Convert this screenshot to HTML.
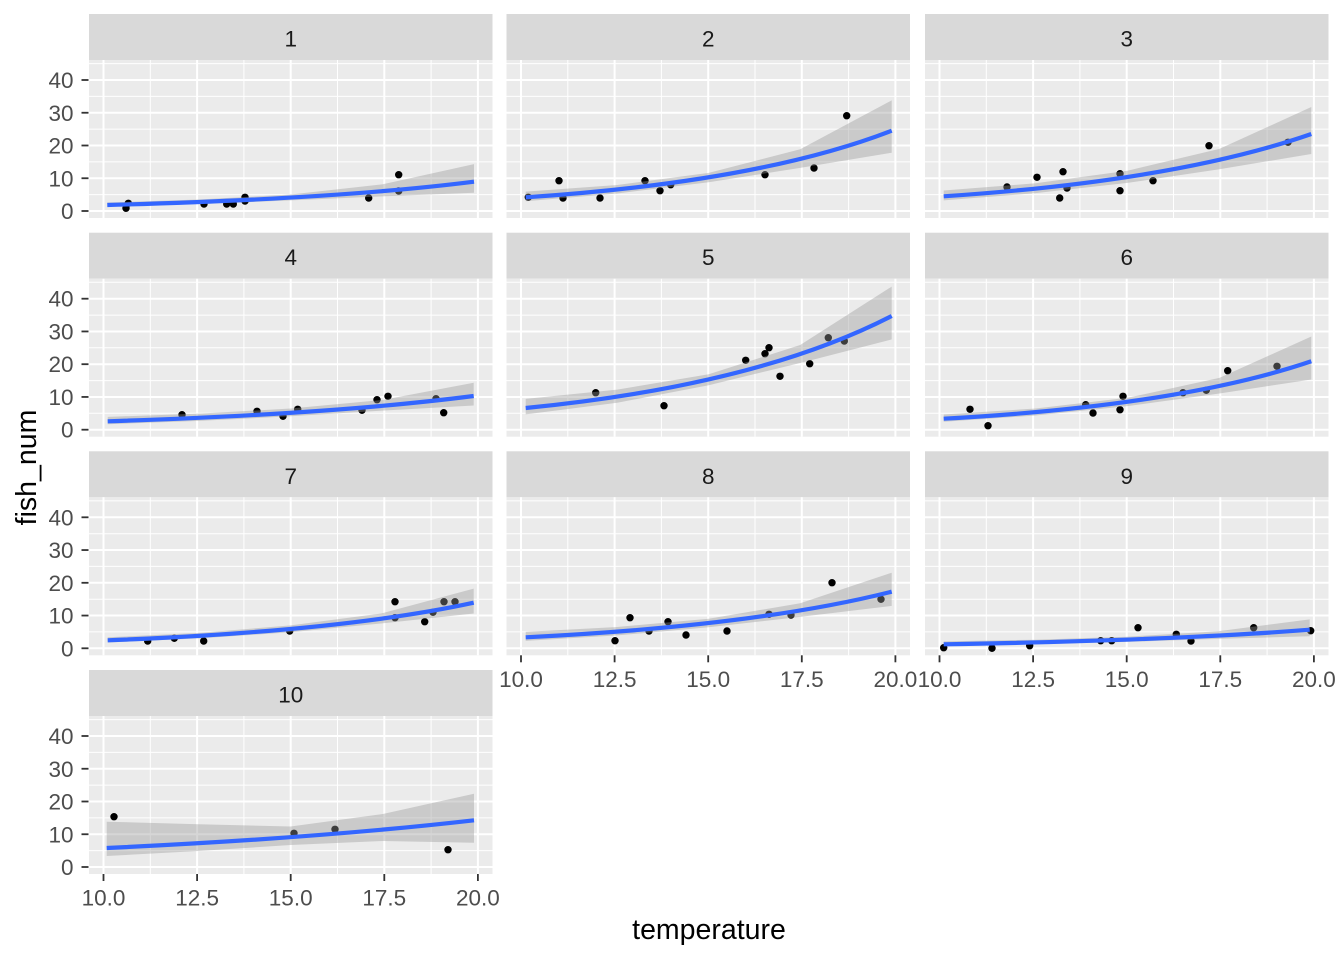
<!DOCTYPE html>
<html>
<head>
<meta charset="utf-8">
<style>
html,body{margin:0;padding:0;background:#fff;}
svg{display:block;}
text{font-family:"Liberation Sans",Arial,sans-serif;}
</style>
</head>
<body>
<svg width="1344" height="960" viewBox="0 0 1344 960" xmlns="http://www.w3.org/2000/svg">
<defs>
  <g id="bg">
    <rect x="0" y="0" width="403.5" height="158" fill="#EBEBEB"/>
    <g stroke="#FFFFFF" stroke-width="1">
      <line x1="61.3" y1="0" x2="61.3" y2="158"/>
      <line x1="154.9" y1="0" x2="154.9" y2="158"/>
      <line x1="248.5" y1="0" x2="248.5" y2="158"/>
      <line x1="342.1" y1="0" x2="342.1" y2="158"/>
      <line x1="0" y1="134.6" x2="403.5" y2="134.6"/>
      <line x1="0" y1="101.9" x2="403.5" y2="101.9"/>
      <line x1="0" y1="69.1" x2="403.5" y2="69.1"/>
      <line x1="0" y1="36.4" x2="403.5" y2="36.4"/>
      <line x1="0" y1="3.6" x2="403.5" y2="3.6"/>
    </g>
    <g stroke="#FFFFFF" stroke-width="2">
      <line x1="14.5" y1="0" x2="14.5" y2="158"/>
      <line x1="108.1" y1="0" x2="108.1" y2="158"/>
      <line x1="201.7" y1="0" x2="201.7" y2="158"/>
      <line x1="295.3" y1="0" x2="295.3" y2="158"/>
      <line x1="388.9" y1="0" x2="388.9" y2="158"/>
      <line x1="0" y1="151" x2="403.5" y2="151"/>
      <line x1="0" y1="118.25" x2="403.5" y2="118.25"/>
      <line x1="0" y1="85.5" x2="403.5" y2="85.5"/>
      <line x1="0" y1="52.75" x2="403.5" y2="52.75"/>
      <line x1="0" y1="20" x2="403.5" y2="20"/>
    </g>
  </g>
  <g id="ytick">
    <g stroke="#333333" stroke-width="1.8">
      <line x1="81.5" y1="151" x2="88.5" y2="151"/>
      <line x1="81.5" y1="118.25" x2="88.5" y2="118.25"/>
      <line x1="81.5" y1="85.5" x2="88.5" y2="85.5"/>
      <line x1="81.5" y1="52.75" x2="88.5" y2="52.75"/>
      <line x1="81.5" y1="20" x2="88.5" y2="20"/>
    </g>
    <g fill="#4D4D4D" font-size="22.5" text-anchor="end">
      <text x="73.5" y="159">0</text>
      <text x="73.5" y="126.25">10</text>
      <text x="73.5" y="93.5">20</text>
      <text x="73.5" y="60.75">30</text>
      <text x="73.5" y="28">40</text>
    </g>
  </g>
  <g id="xtick">
    <g stroke="#333333" stroke-width="1.8">
      <line x1="14.5" y1="158" x2="14.5" y2="165"/>
      <line x1="108.1" y1="158" x2="108.1" y2="165"/>
      <line x1="201.7" y1="158" x2="201.7" y2="165"/>
      <line x1="295.3" y1="158" x2="295.3" y2="165"/>
      <line x1="388.9" y1="158" x2="388.9" y2="165"/>
    </g>
    <g fill="#4D4D4D" font-size="22.5" text-anchor="middle">
      <text x="14.5" y="189.5">10.0</text>
      <text x="108.1" y="189.5">12.5</text>
      <text x="201.7" y="189.5">15.0</text>
      <text x="295.3" y="189.5">17.5</text>
      <text x="388.9" y="189.5">20.0</text>
    </g>
  </g>
</defs>

<!-- strips -->
<g fill="#D9D9D9">
  <rect x="89" y="14" width="403.5" height="46"/>
  <rect x="506.5" y="14" width="403.5" height="46"/>
  <rect x="925" y="14" width="403.5" height="46"/>
  <rect x="89" y="232.7" width="403.5" height="46"/>
  <rect x="506.5" y="232.7" width="403.5" height="46"/>
  <rect x="925" y="232.7" width="403.5" height="46"/>
  <rect x="89" y="451.3" width="403.5" height="46"/>
  <rect x="506.5" y="451.3" width="403.5" height="46"/>
  <rect x="925" y="451.3" width="403.5" height="46"/>
  <rect x="89" y="670" width="403.5" height="46"/>
</g>
<g fill="#1A1A1A" font-size="22.5" text-anchor="middle">
  <text x="290.75" y="46.5">1</text>
  <text x="708.25" y="46.5">2</text>
  <text x="1126.75" y="46.5">3</text>
  <text x="290.75" y="265.2">4</text>
  <text x="708.25" y="265.2">5</text>
  <text x="1126.75" y="265.2">6</text>
  <text x="290.75" y="483.8">7</text>
  <text x="708.25" y="483.8">8</text>
  <text x="1126.75" y="483.8">9</text>
  <text x="290.75" y="702.5">10</text>
</g>

<!-- panel backgrounds -->
<use href="#bg" transform="translate(89,60)"/>
<use href="#bg" transform="translate(506.5,60)"/>
<use href="#bg" transform="translate(925,60)"/>
<use href="#bg" transform="translate(89,278.7)"/>
<use href="#bg" transform="translate(506.5,278.7)"/>
<use href="#bg" transform="translate(925,278.7)"/>
<use href="#bg" transform="translate(89,497.3)"/>
<use href="#bg" transform="translate(506.5,497.3)"/>
<use href="#bg" transform="translate(925,497.3)"/>
<use href="#bg" transform="translate(89,716)"/>

<!-- axes -->
<use href="#ytick" transform="translate(0,60)"/>
<use href="#ytick" transform="translate(0,278.7)"/>
<use href="#ytick" transform="translate(0,497.3)"/>
<use href="#ytick" transform="translate(0,716)"/>
<use href="#xtick" transform="translate(89,716)"/>
<use href="#xtick" transform="translate(506.5,497.3)"/>
<use href="#xtick" transform="translate(925,497.3)"/>

<!-- points -->
<g fill="#000000">
  <!-- 1 -->
  <circle cx="126" cy="208.3" r="3.7"/><circle cx="128.3" cy="203.3" r="3.7"/><circle cx="204" cy="204" r="3.7"/>
  <circle cx="226.7" cy="204" r="3.7"/><circle cx="233.3" cy="204" r="3.7"/><circle cx="245" cy="197.3" r="3.7"/>
  <circle cx="245" cy="201" r="3.7"/><circle cx="368.7" cy="198" r="3.7"/><circle cx="398.7" cy="174.7" r="3.7"/>
  <circle cx="398.7" cy="191" r="3.7"/>
  <!-- 2 -->
  <circle cx="528.3" cy="197.3" r="3.7"/><circle cx="559" cy="180.7" r="3.7"/><circle cx="563" cy="198" r="3.7"/>
  <circle cx="600" cy="198" r="3.7"/><circle cx="645" cy="180.7" r="3.7"/><circle cx="660" cy="190.7" r="3.7"/>
  <circle cx="670.7" cy="184.7" r="3.7"/><circle cx="765" cy="174.7" r="3.7"/><circle cx="814" cy="168" r="3.7"/>
  <circle cx="846.7" cy="115.7" r="3.7"/>
  <!-- 3 -->
  <circle cx="1007" cy="187" r="3.7"/><circle cx="1037" cy="177.3" r="3.7"/><circle cx="1059.7" cy="198" r="3.7"/>
  <circle cx="1063" cy="171.7" r="3.7"/><circle cx="1067" cy="188" r="3.7"/><circle cx="1120" cy="173.7" r="3.7"/>
  <circle cx="1120" cy="190.7" r="3.7"/><circle cx="1153" cy="180.7" r="3.7"/><circle cx="1209" cy="145.7" r="3.7"/>
  <circle cx="1288" cy="142.3" r="3.7"/>
  <!-- 4 -->
  <circle cx="182" cy="414.7" r="3.7"/><circle cx="257" cy="411.3" r="3.7"/><circle cx="283" cy="416.3" r="3.7"/>
  <circle cx="297.7" cy="409.3" r="3.7"/><circle cx="362" cy="410.3" r="3.7"/><circle cx="377" cy="399.7" r="3.7"/>
  <circle cx="388" cy="396.3" r="3.7"/><circle cx="436" cy="398.7" r="3.7"/><circle cx="443.7" cy="412.7" r="3.7"/>
  <!-- 5 -->
  <circle cx="595.7" cy="392.7" r="3.7"/><circle cx="664" cy="405.7" r="3.7"/><circle cx="745.7" cy="360.3" r="3.7"/>
  <circle cx="765" cy="353.7" r="3.7"/><circle cx="769" cy="347.7" r="3.7"/><circle cx="780" cy="376.3" r="3.7"/>
  <circle cx="809.7" cy="363.7" r="3.7"/><circle cx="828.3" cy="337.7" r="3.7"/><circle cx="844.3" cy="341" r="3.7"/>
  <!-- 6 -->
  <circle cx="970" cy="409.3" r="3.7"/><circle cx="988" cy="425.7" r="3.7"/><circle cx="1085.7" cy="404.7" r="3.7"/>
  <circle cx="1093" cy="413" r="3.7"/><circle cx="1120" cy="409.7" r="3.7"/><circle cx="1123" cy="396.3" r="3.7"/>
  <circle cx="1183" cy="392.7" r="3.7"/><circle cx="1206.3" cy="390.3" r="3.7"/><circle cx="1227.7" cy="370.7" r="3.7"/>
  <circle cx="1277" cy="366.3" r="3.7"/>
  <!-- 7 -->
  <circle cx="147.7" cy="641" r="3.7"/><circle cx="174.3" cy="638.3" r="3.7"/><circle cx="203.7" cy="641" r="3.7"/>
  <circle cx="289.7" cy="631" r="3.7"/><circle cx="395" cy="601.7" r="3.7"/><circle cx="395" cy="617.7" r="3.7"/>
  <circle cx="424.7" cy="621.7" r="3.7"/><circle cx="433" cy="612.3" r="3.7"/><circle cx="444" cy="601.7" r="3.7"/>
  <circle cx="455" cy="601.7" r="3.7"/>
  <!-- 8 -->
  <circle cx="615" cy="640.7" r="3.7"/><circle cx="630" cy="617.7" r="3.7"/><circle cx="649" cy="631" r="3.7"/>
  <circle cx="668" cy="621.7" r="3.7"/><circle cx="686" cy="635" r="3.7"/><circle cx="727" cy="631" r="3.7"/>
  <circle cx="769" cy="614.3" r="3.7"/><circle cx="791" cy="615" r="3.7"/><circle cx="832" cy="582.7" r="3.7"/>
  <circle cx="881" cy="599.3" r="3.7"/>
  <!-- 9 -->
  <circle cx="943.7" cy="647.7" r="3.7"/><circle cx="992" cy="648.3" r="3.7"/><circle cx="1029.7" cy="645.7" r="3.7"/>
  <circle cx="1100.7" cy="640.7" r="3.7"/><circle cx="1111.7" cy="640.7" r="3.7"/><circle cx="1138" cy="627.7" r="3.7"/>
  <circle cx="1176.3" cy="634.3" r="3.7"/><circle cx="1191" cy="641" r="3.7"/><circle cx="1253.7" cy="627.7" r="3.7"/>
  <circle cx="1310.7" cy="630.7" r="3.7"/>
  <!-- 10 -->
  <circle cx="114" cy="816.7" r="3.7"/><circle cx="294" cy="833.3" r="3.7"/><circle cx="335" cy="829.3" r="3.7"/>
  <circle cx="448" cy="849.7" r="3.7"/>
</g>

<!-- confidence bands -->
<g fill="#999999" fill-opacity="0.4" stroke="none">
  <polygon points="107.3,202.5 199,199.55 290.65,194.5 382.3,184.4 474,164.1 474,192.7 382.3,196.4 290.65,200.4 199,204.05 107.3,206.8"/>
  <polygon points="525.7,191.6 617.2,185 708.7,172.9 800.2,149.2 891.7,100.4 891.7,152.7 800.2,167.9 708.7,182.2 617.2,193.5 525.7,201.3"/>
  <polygon points="943.7,190.55 1035.6,183.3 1127.5,170.7 1219.4,148.85 1311.3,107.05 1311.3,153.96 1219.4,169.3 1127.5,182.9 1035.6,193.15 943.7,200.4"/>
  <polygon points="107.7,416.9 199.2,413.65 290.7,408.5 382.2,400 473.7,382.8 473.7,405.5 382.2,410.6 290.7,416.3 199.2,420.9 107.7,424.2"/>
  <polygon points="525.7,398.9 617.2,389.6 708.7,374.3 800.2,345 891.7,286.6 891.7,339.4 800.2,363 708.7,385.2 617.2,402.8 525.7,414.4"/>
  <polygon points="943.7,414.55 1035.6,408.5 1127.5,397.8 1219.4,377.9 1311.3,336.5 1311.3,379.5 1219.4,393.5 1127.5,406.1 1035.6,415.5 943.7,421.7"/>
  <polygon points="107.7,637.3 199.2,632.9 290.7,625.4 382.2,613.3 473.7,588.6 473.7,613.5 382.2,623.4 290.7,632.3 199.2,638.4 107.7,642.5"/>
  <polygon points="525.7,631.9 617.2,627 708.7,618.7 800.2,603.3 891.7,572.7 891.7,605.9 800.2,616.9 708.7,627.25 617.2,635.4 525.7,640.9"/>
  <polygon points="943.7,641.4 1035.2,639.7 1126.7,636.7 1218.2,631.2 1309.7,619.4 1309.7,636.3 1218.2,638.9 1126.7,641.9 1035.2,644.3 943.7,646"/>
  <polygon points="106.7,821.7 198.5,824.3 290.6,826.5 382.8,814 474,793.7 474,842.7 382.8,841 290.6,845 198.5,851 106.7,856"/>
</g>

<!-- fitted lines -->
<g fill="none" stroke="#3366FF" stroke-width="4.2">
  <path d="M107.3,205 Q337.1,199 474,181.7"/>
  <path d="M525.7,197.3 Q759.9,181.8 891.7,130.7"/>
  <path d="M943.7,196.3 Q1176,180.9 1311.3,134"/>
  <path d="M107.7,421.3 Q331.7,414.2 473.7,396"/>
  <path d="M525.7,408 Q757,385.3 891.7,316"/>
  <path d="M943.7,418.7 Q1180.6,405.7 1311.3,361.3"/>
  <path d="M107.7,640.3 Q341.3,631.4 473.7,602.7"/>
  <path d="M525.7,637.3 Q756.5,625.9 891.7,591.7"/>
  <path d="M943.7,644.3 Q1171.9,640.5 1309.7,629.7"/>
  <path d="M106.7,848 Q317.5,838.2 474,820.3"/>
</g>

<!-- axis titles -->
<text x="709" y="939" font-size="28.5" fill="#000000" text-anchor="middle">temperature</text>
<text transform="translate(36,467.5) rotate(-90)" x="0" y="0" font-size="28.5" fill="#000000" text-anchor="middle">fish_num</text>
</svg>
</body>
</html>
